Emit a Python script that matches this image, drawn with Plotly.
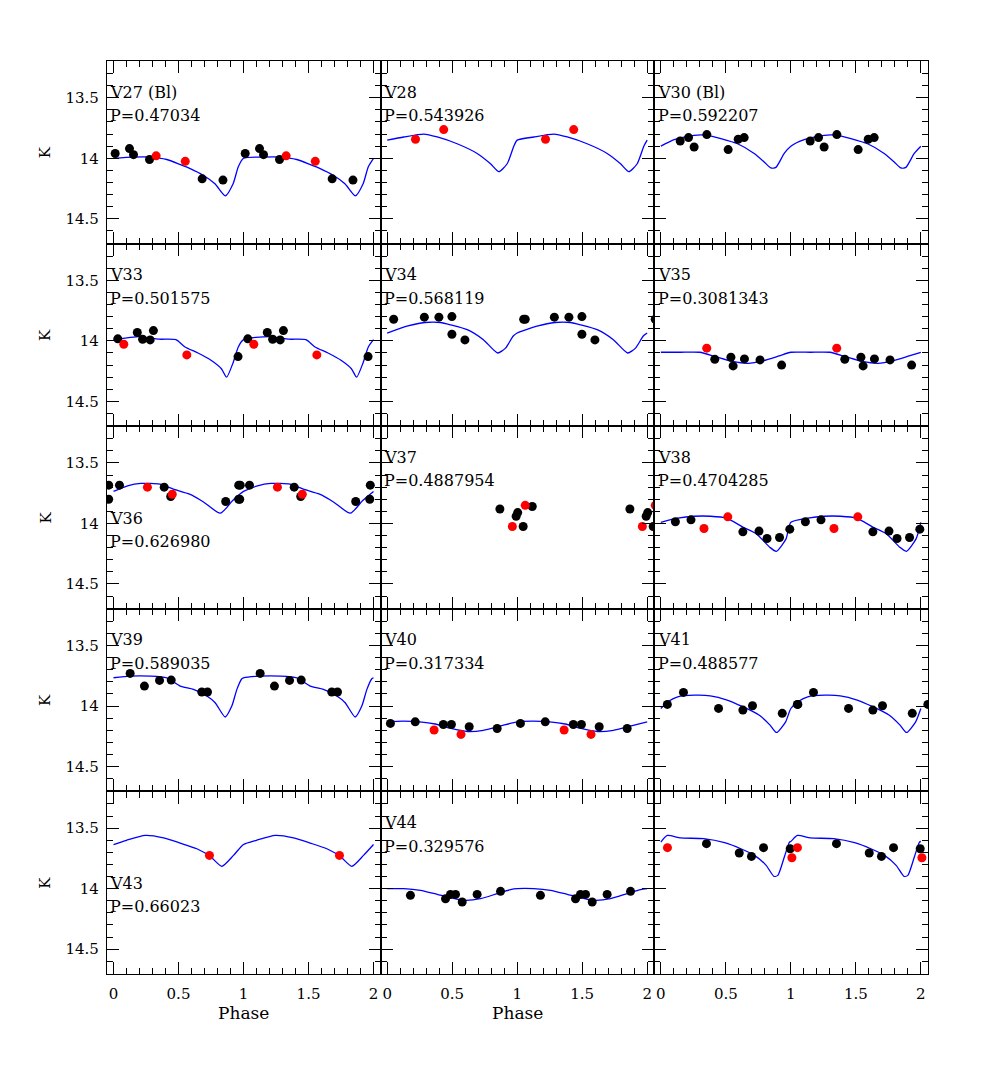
import plotly.graph_objects as go
from plotly.subplots import make_subplots

# K light curves, phase folded; each star: black points, red points, template fit
v27_ph = [0.013, 0.123, 0.154, 0.277, 0.682, 0.842]
v27_k = [13.96, 13.92, 13.97, 14.01, 14.17, 14.18]
v27_red_ph = [0.328, 0.552]
v27_red_k = [13.98, 14.025]
v27_fit_ph = [0, 0.15, 0.28, 0.41, 0.51, 0.59, 0.69, 0.78, 0.86, 0.92, 0.96, 1.0]
v27_fit_k = [14.0, 13.99, 13.99, 14.01, 14.05, 14.085, 14.14, 14.21, 14.31, 14.21, 14.07, 14.0]

v28_ph = []
v28_k = []
v28_red_ph = [0.218, 0.435]
v28_red_k = [13.843, 13.763]
v28_fit_ph = [0, 0.128, 0.282, 0.385, 0.538, 0.692, 0.795, 0.859, 0.923, 0.974, 1.0]
v28_fit_k = [13.85, 13.824, 13.80, 13.824, 13.88, 13.96, 14.045, 14.11, 14.045, 13.90, 13.85]

v30_ph = [0.149, 0.213, 0.256, 0.354, 0.518, 0.595, 0.641]
v30_k = [13.857, 13.829, 13.907, 13.804, 13.928, 13.843, 13.829]
v30_red_ph = []
v30_red_k = []
v30_fit_ph = [0, 0.103, 0.256, 0.359, 0.462, 0.59, 0.718, 0.795, 0.846, 0.885, 0.949, 1.0]
v30_fit_k = [13.90, 13.846, 13.81, 13.81, 13.837, 13.88, 13.96, 14.03, 14.08, 14.075, 13.96, 13.90]

v33_ph = [0.033, 0.183, 0.224, 0.282, 0.307, 0.958]
v33_k = [13.983, 13.931, 13.986, 13.992, 13.915, 14.13]
v33_red_ph = [0.079, 0.564]
v33_red_k = [14.028, 14.116]
v33_fit_ph = [0, 0.2, 0.35, 0.48, 0.55, 0.65, 0.75, 0.83, 0.87, 0.92, 0.96, 1.0]
v33_fit_k = [13.99, 13.964, 13.986, 13.99, 14.05, 14.10, 14.16, 14.23, 14.30, 14.18, 14.05, 13.99]

v34_ph = [0.05, 0.286, 0.398, 0.498, 0.498, 0.598, 1.062]
v34_k = [13.821, 13.804, 13.804, 13.799, 13.945, 13.992, 13.821]
v34_red_ph = []
v34_red_k = []
v34_fit_ph = [0, 0.16, 0.29, 0.41, 0.49, 0.62, 0.74, 0.85, 0.91, 0.97, 1.0]
v34_fit_k = [13.935, 13.876, 13.848, 13.848, 13.868, 13.909, 13.99, 14.10, 14.06, 13.96, 13.935]

v35_ph = [0.415, 0.539, 0.556, 0.643, 0.763, 0.929]
v35_k = [14.152, 14.135, 14.207, 14.149, 14.157, 14.20]
v35_red_ph = [0.353]
v35_red_k = [14.06]
v35_fit_ph = [0, 0.15, 0.3, 0.42, 0.55, 0.67, 0.79, 0.91, 1.0]
v35_fit_k = [14.094, 14.094, 14.094, 14.13, 14.17, 14.185, 14.163, 14.124, 14.094]

v36_ph = [-0.037, -0.037, 0.046, 0.39, 0.44, 0.863, 0.971, 0.975]
v36_k = [13.683, 13.80, 13.683, 13.70, 13.777, 13.818, 13.80, 13.683]
v36_red_ph = [0.261, 0.452]
v36_red_k = [13.70, 13.758]
v36_fit_ph = [0, 0.108, 0.21, 0.357, 0.46, 0.585, 0.689, 0.822, 0.917, 1.0]
v36_fit_k = [13.735, 13.689, 13.669, 13.675, 13.716, 13.758, 13.82, 13.915, 13.81, 13.735]

v37_ph = [0.867, 0.992, 1.004, 1.046, 1.116]
v37_k = [13.88, 13.94, 13.91, 14.025, 13.86]
v37_red_ph = [0.963, 1.062]
v37_red_k = [14.025, 13.85]
v37_fit_ph = []
v37_fit_k = []

v38_ph = [0.112, 0.232, 0.631, 0.755, 0.817, 0.913, 0.992]
v38_k = [13.986, 13.97, 14.069, 14.063, 14.124, 14.116, 14.047]
v38_red_ph = [0.332, 0.515]
v38_red_k = [14.041, 13.945]
v38_fit_ph = [0, 0.13, 0.257, 0.382, 0.506, 0.631, 0.734, 0.838, 0.888, 0.963, 1.0]
v38_fit_k = [13.99, 13.956, 13.94, 13.94, 13.956, 14.03, 14.085, 14.196, 14.23, 14.127, 13.99]

v39_ph = [0.128, 0.238, 0.354, 0.444, 0.679, 0.723]
v39_k = [13.73, 13.835, 13.788, 13.785, 13.884, 13.884]
v39_red_ph = []
v39_red_k = []
v39_fit_ph = [0, 0.128, 0.282, 0.41, 0.513, 0.615, 0.718, 0.782, 0.859, 0.91, 0.949, 0.987, 1.0]
v39_fit_k = [13.766, 13.752, 13.752, 13.766, 13.835, 13.862, 13.917, 13.972, 14.09, 14.0, 13.862, 13.774, 13.766]

v40_ph = [0.025, 0.216, 0.432, 0.494, 0.631, 0.846]
v40_k = [14.143, 14.13, 14.152, 14.152, 14.171, 14.185]
v40_red_ph = [0.361, 0.568]
v40_red_k = [14.198, 14.234]
v40_fit_ph = [0, 0.12, 0.25, 0.37, 0.49, 0.62, 0.74, 0.87, 1.0]
v40_fit_k = [14.13, 14.125, 14.13, 14.148, 14.185, 14.21, 14.20, 14.165, 14.13]

v41_ph = [0.05, 0.174, 0.444, 0.631, 0.705, 0.934, 1.054]
v41_k = [13.986, 13.887, 14.019, 14.033, 13.997, 14.06, 13.986]
v41_red_ph = []
v41_red_k = []
v41_fit_ph = [0, 0.06, 0.13, 0.26, 0.38, 0.51, 0.63, 0.755, 0.84, 0.89, 0.96, 1.0]
v41_fit_k = [14.02, 13.96, 13.923, 13.91, 13.915, 13.95, 14.005, 14.074, 14.157, 14.218, 14.13, 14.02]

v43_ph = []
v43_k = []
v43_red_ph = [0.738]
v43_red_k = [13.725]
v43_fit_ph = [0, 0.1, 0.244, 0.385, 0.513, 0.641, 0.744, 0.833, 0.923, 1.0]
v43_fit_k = [13.635, 13.60, 13.56, 13.58, 13.623, 13.67, 13.733, 13.815, 13.725, 13.635]

v44_ph = [0.179, 0.449, 0.487, 0.526, 0.577, 0.692, 0.872]
v44_k = [14.055, 14.083, 14.047, 14.047, 14.11, 14.047, 14.022]
v44_red_ph = []
v44_red_k = []
v44_fit_ph = [0, 0.128, 0.256, 0.385, 0.487, 0.59, 0.718, 0.846, 0.949, 1.0]
v44_fit_k = [14.0, 14.0, 14.014, 14.047, 14.074, 14.096, 14.083, 14.041, 14.008, 14.0]

# last panel carries no label in the original
v45_ph = [0.351, 0.603, 0.697, 0.79, 0.995]
v45_k = [13.628, 13.705, 13.733, 13.661, 13.67]
v45_red_ph = [0.051, 1.008]
v45_red_k = [13.661, 13.744]
v45_fit_ph = [0, 0.05, 0.15, 0.33, 0.49, 0.615, 0.72, 0.81, 0.87, 0.90, 0.95, 0.99, 1.0]
v45_fit_k = [13.615, 13.56, 13.58, 13.587, 13.62, 13.67, 13.725, 13.807, 13.898, 13.89, 13.738, 13.614, 13.61]

names = ["V27 (Bl)", "V28", "V30 (Bl)", "V33", "V34", "V35", "V36", "V37", "V38",
         "V39", "V40", "V41", "V43", "V44", ""]
periods = ["0.47034", "0.543926", "0.592207", "0.501575", "0.568119", "0.3081343",
           "0.626980", "0.4887954", "0.4704285", "0.589035", "0.317334", "0.488577",
           "0.66023", "0.329576", ""]
label_low = ["V36", "V43"]

panels = [
    (v27_ph, v27_k, v27_red_ph, v27_red_k, v27_fit_ph, v27_fit_k),
    (v28_ph, v28_k, v28_red_ph, v28_red_k, v28_fit_ph, v28_fit_k),
    (v30_ph, v30_k, v30_red_ph, v30_red_k, v30_fit_ph, v30_fit_k),
    (v33_ph, v33_k, v33_red_ph, v33_red_k, v33_fit_ph, v33_fit_k),
    (v34_ph, v34_k, v34_red_ph, v34_red_k, v34_fit_ph, v34_fit_k),
    (v35_ph, v35_k, v35_red_ph, v35_red_k, v35_fit_ph, v35_fit_k),
    (v36_ph, v36_k, v36_red_ph, v36_red_k, v36_fit_ph, v36_fit_k),
    (v37_ph, v37_k, v37_red_ph, v37_red_k, v37_fit_ph, v37_fit_k),
    (v38_ph, v38_k, v38_red_ph, v38_red_k, v38_fit_ph, v38_fit_k),
    (v39_ph, v39_k, v39_red_ph, v39_red_k, v39_fit_ph, v39_fit_k),
    (v40_ph, v40_k, v40_red_ph, v40_red_k, v40_fit_ph, v40_fit_k),
    (v41_ph, v41_k, v41_red_ph, v41_red_k, v41_fit_ph, v41_fit_k),
    (v43_ph, v43_k, v43_red_ph, v43_red_k, v43_fit_ph, v43_fit_k),
    (v44_ph, v44_k, v44_red_ph, v44_red_k, v44_fit_ph, v44_fit_k),
    (v45_ph, v45_k, v45_red_ph, v45_red_k, v45_fit_ph, v45_fit_k),
]

FONT = "DejaVu Serif"
NROWS, NCOLS = 5, 3


def two_cycles(ph, k):
    # phase plotted twice, 0..1 and 1..2
    return list(ph) + [p + 1 for p in ph], list(k) + list(k)


fig = make_subplots(rows=NROWS, cols=NCOLS, horizontal_spacing=0, vertical_spacing=0)

for i, (ph, k, rph, rk, fph, fk) in enumerate(panels):
    r, c = i // NCOLS + 1, i % NCOLS + 1
    if fph:
        fx = list(fph) + [p + 1 for p in fph[1:]]
        fy = list(fk) + list(fk[1:])
        fig.add_trace(go.Scatter(x=fx, y=fy, mode="lines",
                                 line=dict(color="#0000ff", width=1.3, shape="spline", smoothing=0.6),
                                 hoverinfo="skip", showlegend=False), row=r, col=c)
    if ph:
        x, y = two_cycles(ph, k)
        fig.add_trace(go.Scatter(x=x, y=y, mode="markers", marker=dict(color="black", size=9),
                                 showlegend=False), row=r, col=c)
    if rph:
        x, y = two_cycles(rph, rk)
        fig.add_trace(go.Scatter(x=x, y=y, mode="markers", marker=dict(color="#ff0000", size=9),
                                 showlegend=False), row=r, col=c)

    n = "" if i == 0 else str(i + 1)
    if names[i]:
        y1, y2 = (0.493, 0.37) if names[i] in label_low else (0.83, 0.70)
        fig.add_annotation(xref=f"x{n} domain", yref=f"y{n} domain", x=0.005, y=y1, xanchor="left",
                           yanchor="middle", text=names[i], showarrow=False,
                           font=dict(family=FONT, size=16, color="black"))
        fig.add_annotation(xref=f"x{n} domain", yref=f"y{n} domain", x=0.005, y=y2, xanchor="left",
                           yanchor="middle", text="P=" + periods[i], showarrow=False,
                           font=dict(family=FONT, size=16, color="black"))

axis_common = dict(showline=True, linecolor="black", linewidth=1.2, mirror="allticks",
                   ticks="inside", ticklen=12, tickwidth=1.2, tickcolor="black",
                   showgrid=False, zeroline=False,
                   tickfont=dict(family=FONT, size=15, color="black"),
                   minor=dict(ticks="inside", ticklen=6, tickwidth=1.2, tickcolor="black", showgrid=False))

for r in range(1, NROWS + 1):
    for c in range(1, NCOLS + 1):
        fig.update_xaxes(axis_common, range=[-0.05, 2.055], tickvals=[0, 0.5, 1, 1.5, 2],
                         ticktext=["0", "0.5", "1", "1.5", "2"], minor_dtick=0.1, minor_tick0=0,
                         showticklabels=(r == NROWS), ticklabelstandoff=6, row=r, col=c)
        fig.update_yaxes(axis_common, range=[14.705, 13.196], tickvals=[13.5, 14, 14.5],
                         ticktext=["13.5", "14", "14.5"], minor_dtick=0.1, minor_tick0=13.0,
                         showticklabels=(c == 1), ticklabelstandoff=4, row=r, col=c)

# page body adds 8 px on each side, so the figure is drawn 16 px smaller
W, H = 965, 1074
ML, MR, MT, MB = 99, 45, 53, 108
pw, ph_ = W - ML - MR, H - MT - MB
# row titles "K" and column titles "Phase"
for r in range(NROWS):
    yc = 1 - (r + 0.5) / NROWS
    fig.add_annotation(xref="paper", yref="paper", x=(37 - ML) / pw, y=yc, text="K", textangle=-90,
                       showarrow=False, xanchor="center", yanchor="middle",
                       font=dict(family=FONT, size=15, color="black"))
for c in range(2):
    fig.add_annotation(xref="paper", yref="paper", x=(c + 0.5) / NCOLS, y=(H - MB - 1005) / ph_,
                       text="Phase", showarrow=False, xanchor="center", yanchor="middle",
                       font=dict(family=FONT, size=17, color="black"))

fig.update_layout(width=W, height=H, margin=dict(l=ML, r=MR, t=MT, b=MB),
                  paper_bgcolor="white", plot_bgcolor="white", showlegend=False)

fig.write_html("out.html")
